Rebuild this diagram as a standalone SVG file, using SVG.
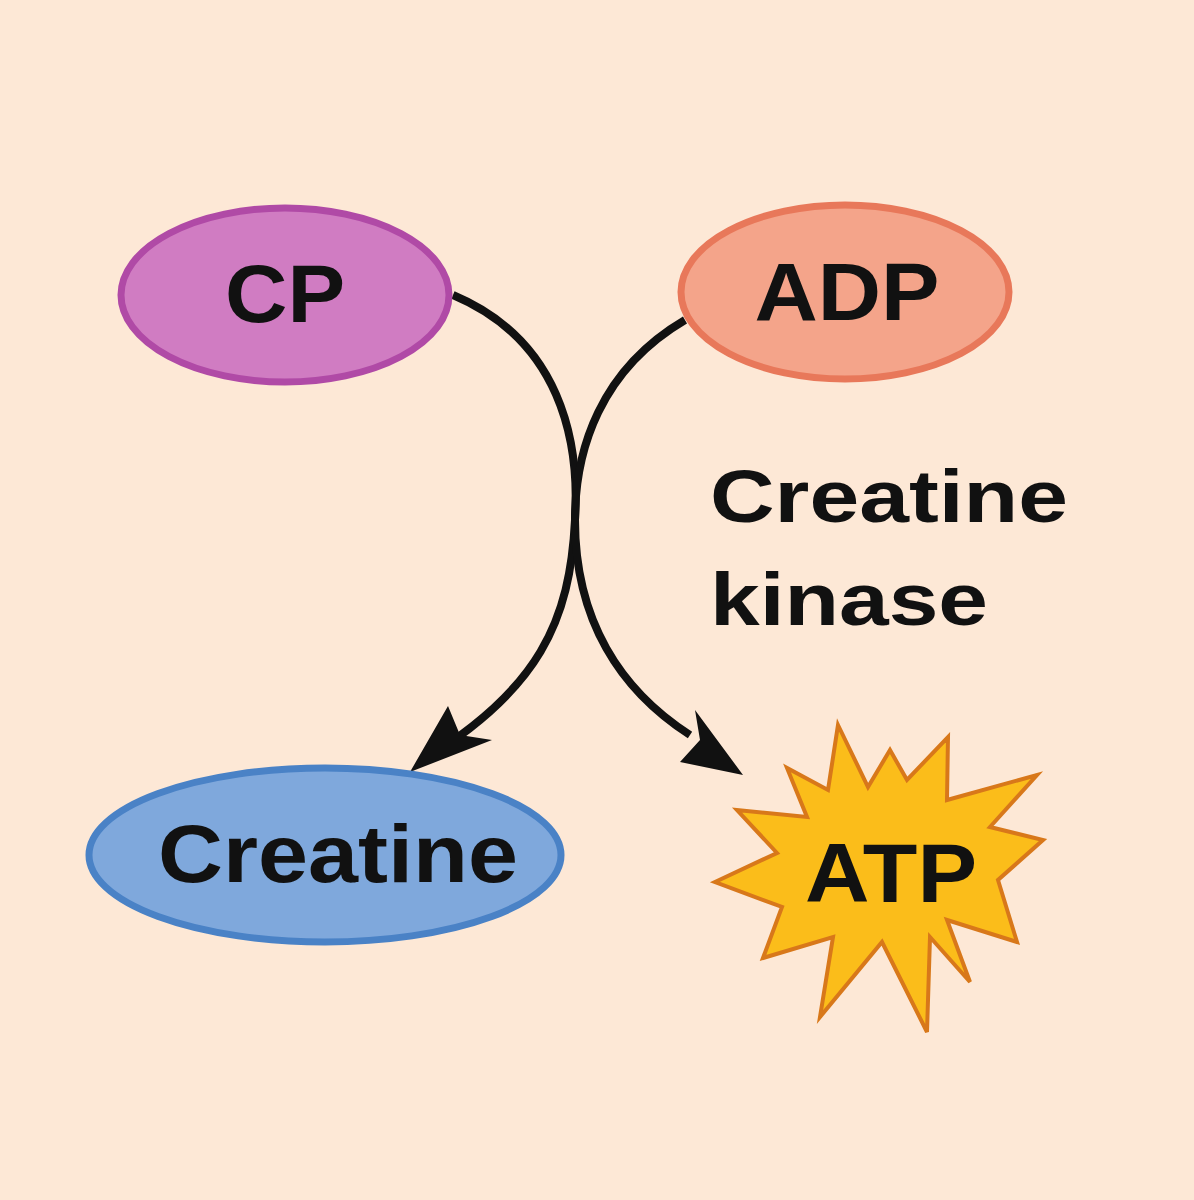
<svg xmlns="http://www.w3.org/2000/svg" width="1194" height="1200" viewBox="0 0 1194 1200">
<style>
.t{font-family:"Liberation Sans",Arial,sans-serif;font-weight:bold;fill:#111;text-anchor:middle}
.c{fill:none;stroke:#111;stroke-width:8}
</style>
<rect width="1194" height="1200" fill="#fde8d6"/>
<g id="connectors">
<path class="c" d="M453,295 C560,340 580,440 575,520 C570,620 540,690 420,762"/>
<path d="M410,772 L448,706 L460,735 L492,740 Z" fill="#111"/>
<path class="c" d="M685,320 C600,370 575,450 575,520 C575,620 620,690 690,735"/>
<path d="M743,775 L680,762 L700,740 L695,710 Z" fill="#111"/>
</g>
<g id="cp"><ellipse cx="285" cy="295" rx="164" ry="87" fill="#d07cc2" stroke="#b04aa6" stroke-width="7"/><text class="t" x="285" y="322" font-size="82" textLength="120" lengthAdjust="spacingAndGlyphs">CP</text></g>
<g id="adp"><ellipse cx="845" cy="292" rx="164" ry="87" fill="#f4a48a" stroke="#e8785a" stroke-width="7"/><text class="t" x="847" y="320" font-size="82" textLength="185" lengthAdjust="spacingAndGlyphs">ADP</text></g>
<g id="creatine"><ellipse cx="325" cy="855" rx="236" ry="87" fill="#7fa8dc" stroke="#4a82c6" stroke-width="7"/><text class="t" x="338" y="882" font-size="82" textLength="360" lengthAdjust="spacingAndGlyphs">Creatine</text></g>
<g id="atp"><polygon points="838,725 868,787 890,750 907,780 948,737 947,800 1037,775 990,827 1043,840 998,880 1017,942 947,920 970,982 930,937 927,1032 882,942 820,1017 833,937 763,958 782,907 715,882 777,853 737,810 807,817 787,768 828,790" fill="#fbbd1a" stroke="#d8781a" stroke-width="4"/><text class="t" x="891" y="902" font-size="84" textLength="172" lengthAdjust="spacingAndGlyphs">ATP</text></g>
<g id="enzyme"><text class="t" style="text-anchor:start" x="710" y="522" font-size="74" textLength="358" lengthAdjust="spacingAndGlyphs">Creatine</text><text class="t" style="text-anchor:start" x="710" y="625" font-size="74" textLength="278" lengthAdjust="spacingAndGlyphs">kinase</text></g>
</svg>
